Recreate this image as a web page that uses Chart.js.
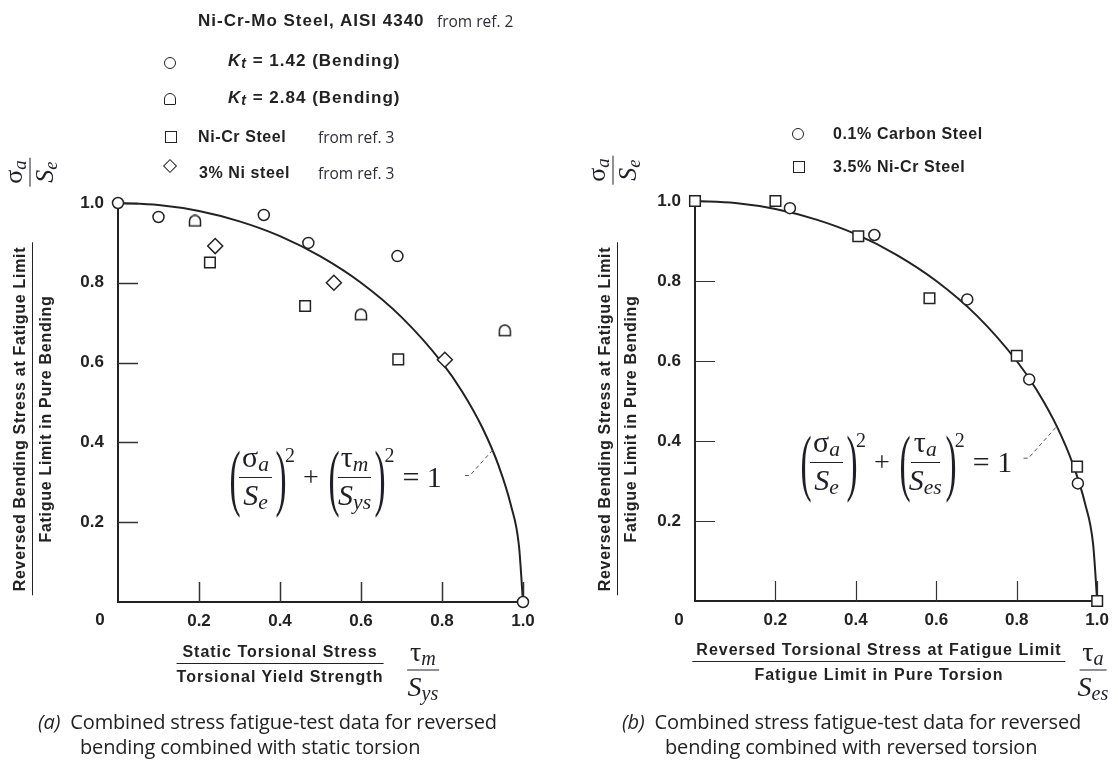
<!DOCTYPE html>
<html>
<head>
<meta charset="utf-8">
<script src="https://cdn.jsdelivr.net/npm/chart.js@4.4.1/dist/chart.umd.min.js"></script>
<style>
  body { margin: 0; background: #fff; }
  #page { position: relative; width: 1118px; height: 761px; overflow: hidden; }
  canvas { position: absolute; top: 0; }
  .t { position: absolute; transform: translateY(-50%); white-space: nowrap; color: #222;
       font-family: "Liberation Sans", Arial, sans-serif; font-weight: bold; font-size: 16px;
       letter-spacing: 0.6px; line-height: 20px; }
  .ref { font-family: "Open Sans", sans-serif; font-weight: normal; letter-spacing: 0; font-size: 15.5px; color: #2d2d3a; }
  .t sub { font-size: 14px; font-style: italic; position: relative; top: 2px; vertical-align: baseline; }
  .mk { position: absolute; width: 12px; height: 12px; box-sizing: border-box; border: 1.5px solid #222;
        background: #fff; transform: translate(-50%, -50%); }
  .mk.c { border-radius: 50%; }
  .mk.d { border-radius: 6px 6px 1px 1px; }
  .mk.r { width: 10px; height: 10px; transform: translate(-50%, -50%) rotate(45deg); }
  .ytitle { position: absolute; transform: translate(-50%, -50%) rotate(-90deg); text-align: center;
            white-space: nowrap; color: #222; font: bold 16px "Liberation Sans", Arial, sans-serif;
            letter-spacing: 0.7px; line-height: 22px; }
  .xtitle { position: absolute; transform: translate(-50%, -50%); text-align: center; white-space: nowrap;
            color: #222; font: bold 16px "Liberation Sans", Arial, sans-serif; letter-spacing: 1px; line-height: 21px; }
  .bar { border-bottom: 1.5px solid #222; padding: 0 4px 1px; margin-bottom: 2px; }
  .sym { position: absolute; transform: translate(-50%, -50%); display: flex; flex-direction: column;
         align-items: center; font-family: "Liberation Serif", serif; font-size: 28px; line-height: 28px; color: #1f1f2a; }
  .sym.rot { transform: translate(-50%, -50%) rotate(-90deg); font-size: 26px; line-height: 24px; }
  .sym .n { border-bottom: 1.5px solid #222; padding: 0 3px 2px; }
  .sym .d { padding-top: 2px; }
  .it { font-style: italic; }
  .lo { font-style: italic; font-size: 0.72em; position: relative; top: 0.2em; }
  .formula { position: absolute; transform: translateY(-50%); display: flex; align-items: center;
             font-family: "Liberation Serif", serif; color: #1f1f2a; white-space: nowrap; }
  .par { font-size: 74px; line-height: 74px; display: inline-block; width: 13px; text-align: center;
         transform: scaleX(0.45); }
  .frac { display: inline-flex; flex-direction: column; align-items: center; font-size: 30px; line-height: 28px; }
  .frac .n { border-bottom: 1.5px solid #222; padding: 0 3px 3px; }
  .frac .d { padding-top: 3px; }
  .pw { font-size: 20px; align-self: flex-start; margin-top: 4px; }
  .op { font-size: 28px; margin: 0 6px 0 8px; }
  .eq { font-size: 30px; margin-left: 8px; }
  .cap { position: absolute; transform: translateY(-50%); white-space: nowrap; color: #222;
         font-family: "Open Sans", sans-serif; font-size: 20px; letter-spacing: -0.15px; line-height: 24px; }
  .zero { position: absolute; transform: translate(-50%, -50%); color: #222;
          font: bold 17px "Liberation Sans", Arial, sans-serif; }
</style>
</head>
<body>
<div id="page">
  <canvas id="chartA" width="559" height="761" style="left:0"></canvas>
  <canvas id="chartB" width="559" height="761" style="left:559px"></canvas>

  <!-- legend (a) -->
  <div class="t" style="left:198px;top:21px;font-size:17px;letter-spacing:1px">Ni-Cr-Mo Steel, AISI 4340</div>
  <div class="t ref" style="left:437px;top:21px">from ref. 2</div>
  <div class="mk c" style="left:170px;top:63px"></div>
  <div class="t" style="left:228px;top:61px;font-size:17px;letter-spacing:1px"><span class="it">K</span><sub>t</sub> = 1.42 (Bending)</div>
  <div class="mk d" style="left:170px;top:99px"></div>
  <div class="t" style="left:228px;top:98px;font-size:17px;letter-spacing:1px"><span class="it">K</span><sub>t</sub> = 2.84 (Bending)</div>
  <div class="mk" style="left:171px;top:137px"></div>
  <div class="t" style="left:198px;top:137px">Ni-Cr Steel</div>
  <div class="t ref" style="left:318px;top:137px">from ref. 3</div>
  <div class="mk r" style="left:170px;top:166px"></div>
  <div class="t" style="left:199px;top:173px">3% Ni steel</div>
  <div class="t ref" style="left:318px;top:173px">from ref. 3</div>

  <!-- legend (b) -->
  <div class="mk c" style="left:798px;top:134px"></div>
  <div class="t" style="left:833px;top:134px">0.1% Carbon Steel</div>
  <div class="mk" style="left:799px;top:167px"></div>
  <div class="t" style="left:833px;top:167px">3.5% Ni-Cr Steel</div>

  <!-- axis titles (a) -->
  <div class="sym rot" style="left:30px;top:172px"><div class="n">σ<span class="lo">a</span></div><div class="d"><span class="it">S</span><span class="lo">e</span></div></div>
  <div class="ytitle" style="left:33px;top:419px"><div class="bar">Reversed Bending Stress at Fatigue Limit</div><div>Fatigue Limit in Pure Bending</div></div>
  <div class="xtitle" style="left:280px;top:664px"><div class="bar">Static Torsional Stress</div><div>Torsional Yield Strength</div></div>
  <div class="sym" style="left:423px;top:670px"><div class="n">τ<span class="lo">m</span></div><div class="d"><span class="it">S</span><span class="lo">ys</span></div></div>
  <div class="zero" style="left:100px;top:620px">0</div>

  <!-- axis titles (b) -->
  <div class="sym rot" style="left:613px;top:170px"><div class="n">σ<span class="lo">a</span></div><div class="d"><span class="it">S</span><span class="lo">e</span></div></div>
  <div class="ytitle" style="left:618px;top:419px"><div class="bar">Reversed Bending Stress at Fatigue Limit</div><div>Fatigue Limit in Pure Bending</div></div>
  <div class="xtitle" style="left:879px;top:662px"><div class="bar">Reversed Torsional Stress at Fatigue Limit</div><div>Fatigue Limit in Pure Torsion</div></div>
  <div class="sym" style="left:1093px;top:670px"><div class="n">τ<span class="lo">a</span></div><div class="d"><span class="it">S</span><span class="lo">es</span></div></div>
  <div class="zero" style="left:679px;top:620px">0</div>

  <!-- formulas -->
  <div class="formula" style="left:226px;top:477px">
    <span class="par">(</span><span class="frac"><span class="n">σ<span class="lo">a</span></span><span class="d"><span class="it">S</span><span class="lo">e</span></span></span><span class="par">)</span><span class="pw">2</span>
    <span class="op">+</span>
    <span class="par">(</span><span class="frac"><span class="n">τ<span class="lo">m</span></span><span class="d"><span class="it">S</span><span class="lo">ys</span></span></span><span class="par">)</span><span class="pw">2</span>
    <span class="eq">= 1</span>
  </div>
  <div class="formula" style="left:797px;top:462px">
    <span class="par">(</span><span class="frac"><span class="n">σ<span class="lo">a</span></span><span class="d"><span class="it">S</span><span class="lo">e</span></span></span><span class="par">)</span><span class="pw">2</span>
    <span class="op">+</span>
    <span class="par">(</span><span class="frac"><span class="n">τ<span class="lo">a</span></span><span class="d"><span class="it">S</span><span class="lo">es</span></span></span><span class="par">)</span><span class="pw">2</span>
    <span class="eq">= 1</span>
  </div>

  <!-- captions -->
  <div class="cap" style="left:38px;top:722px"><i>(a)</i>&nbsp;&nbsp;Combined stress fatigue-test data for reversed</div>
  <div class="cap" style="left:80px;top:747px">bending combined with static torsion</div>
  <div class="cap" style="left:622px;top:722px"><i>(b)</i>&nbsp;&nbsp;Combined stress fatigue-test data for reversed</div>
  <div class="cap" style="left:665px;top:747px">bending combined with reversed torsion</div>
</div>

<script>
// quarter-circle curve, (σa/Se)^2 + (τ/S)^2 = 1
const curveX = [0, 0.1, 0.2, 0.3, 0.4, 0.5, 0.6, 0.7, 0.8, 0.85, 0.9, 0.94, 0.97, 0.99, 1.0];
const curveY = [1.0, 0.995, 0.98, 0.954, 0.917, 0.866, 0.8, 0.714, 0.6, 0.527, 0.436, 0.341, 0.243, 0.141, 0];

// (a) reversed bending + static torsion
const kt142X = [0, 0.10, 0.36, 0.47, 0.69, 1.0];
const kt142Y = [1.0, 0.965, 0.97, 0.90, 0.867, 0];
const kt284X = [0.19, 0.60, 0.955];
const kt284Y = [0.955, 0.72, 0.68];
const niCrX = [0.227, 0.462, 0.692];
const niCrY = [0.851, 0.742, 0.608];
const ni3X = [0.24, 0.533, 0.807];
const ni3Y = [0.892, 0.80, 0.607];
const leaderAX = [0.857, 0.869, 0.926];
const leaderAY = [0.317, 0.317, 0.382];

// (b) reversed bending + reversed torsion
const carbonX = [0.236, 0.446, 0.677, 0.831, 0.952];
const carbonY = [0.982, 0.915, 0.754, 0.554, 0.294];
const niCr35X = [0, 0.20, 0.406, 0.583, 0.80, 0.95, 1.0];
const niCr35Y = [1.0, 1.0, 0.912, 0.757, 0.613, 0.336, 0];
const leaderBX = [0.817, 0.829, 0.899];
const leaderBY = [0.357, 0.357, 0.436];

const ink = "#222";

function pts(xs, ys) {
  return xs.map((x, i) => ({ x: x, y: ys[i] }));
}

// D-shaped marker (flat bottom) for Kt = 2.84
const dMark = document.createElement("canvas");
dMark.width = 14;
dMark.height = 13;
(function () {
  const c = dMark.getContext("2d");
  c.lineWidth = 1.5;
  c.strokeStyle = ink;
  c.fillStyle = "#fff";
  c.beginPath();
  c.moveTo(1.5, 11.5);
  c.lineTo(1.5, 6.5);
  c.arc(7, 6.5, 5.5, Math.PI, 0);
  c.lineTo(12.5, 11.5);
  c.closePath();
  c.fill();
  c.stroke();
})();

function markers(data, style, radius) {
  return {
    data: data,
    pointStyle: style,
    pointRadius: radius,
    pointBorderWidth: 1.5,
    pointBorderColor: ink,
    pointBackgroundColor: "#fff",
    clip: false,
    order: 0,
  };
}

function curve(data) {
  return {
    data: data,
    showLine: true,
    borderColor: ink,
    borderWidth: 2,
    pointRadius: 0,
    cubicInterpolationMode: "monotone",
    clip: false,
    order: 5,
  };
}

function leader(data) {
  return {
    data: data,
    showLine: true,
    borderColor: "#555",
    borderWidth: 1,
    borderDash: [4, 3],
    pointRadius: 0,
    order: 4,
  };
}

// tick marks point into the plot
const inwardTicks = {
  id: "inwardTicks",
  beforeDatasetsDraw(chart, args, opts) {
    const { ctx, chartArea, scales } = chart;
    ctx.save();
    ctx.strokeStyle = opts.color;
    ctx.lineWidth = opts.width;
    ctx.beginPath();
    scales.x.ticks.forEach((t) => {
      if (t.value <= 0) return;
      const px = Math.round(scales.x.getPixelForValue(t.value)) + 0.5;
      ctx.moveTo(px, chartArea.bottom);
      ctx.lineTo(px, chartArea.bottom - opts.len);
    });
    scales.y.ticks.forEach((t) => {
      if (t.value <= 0) return;
      const py = Math.round(scales.y.getPixelForValue(t.value)) + 0.5;
      ctx.moveTo(chartArea.left, py);
      ctx.lineTo(chartArea.left + opts.len, py);
    });
    ctx.stroke();
    ctx.restore();
  },
};

const tickFont = { family: "Liberation Sans", size: 17, weight: "bold" };

function axis(fit, pad) {
  return {
    type: "linear",
    min: 0,
    max: 1,
    afterFit: fit,
    grid: { display: false, drawTicks: false },
    border: { display: true, color: ink, width: 2 },
    ticks: {
      stepSize: 0.2,
      padding: pad,
      color: ink,
      font: tickFont,
      autoSkip: false,
      maxRotation: 0,
      callback: (v) => (v > 0 ? v.toFixed(1) : ""),
    },
  };
}

function makeChart(id, datasets, padding, tickWidth) {
  return new Chart(document.getElementById(id), {
    type: "scatter",
    data: { datasets: datasets },
    options: {
      responsive: false,
      animation: false,
      layout: { padding: padding },
      plugins: {
        legend: { display: false },
        tooltip: { enabled: false },
        inwardTicks: { len: 20, width: tickWidth, color: "#333" },
      },
      scales: {
        x: axis((s) => { s.height = 30; }, 9),
        y: axis((s) => { s.width = 40; }, 14),
      },
    },
    plugins: [inwardTicks],
  });
}

makeChart("chartA", [
  curve(pts(curveX, curveY)),
  leader(pts(leaderAX, leaderAY)),
  markers(pts(kt142X, kt142Y), "circle", 5.5),
  markers(pts(kt284X, kt284Y), dMark, 6),
  markers(pts(niCrX, niCrY), "rect", 7.5),
  markers(pts(ni3X, ni3Y), "rectRot", 7.5),
], { left: 78, right: 36, top: 203, bottom: 129 }, 1.5);

makeChart("chartB", [
  curve(pts(curveX, curveY)),
  leader(pts(leaderBX, leaderBY)),
  markers(pts(carbonX, carbonY), "circle", 5.5),
  markers(pts(niCr35X, niCr35Y), "rect", 7.5),
], { left: 96, right: 17, top: 201, bottom: 130 }, 1.2);
</script>
</body>
</html>
